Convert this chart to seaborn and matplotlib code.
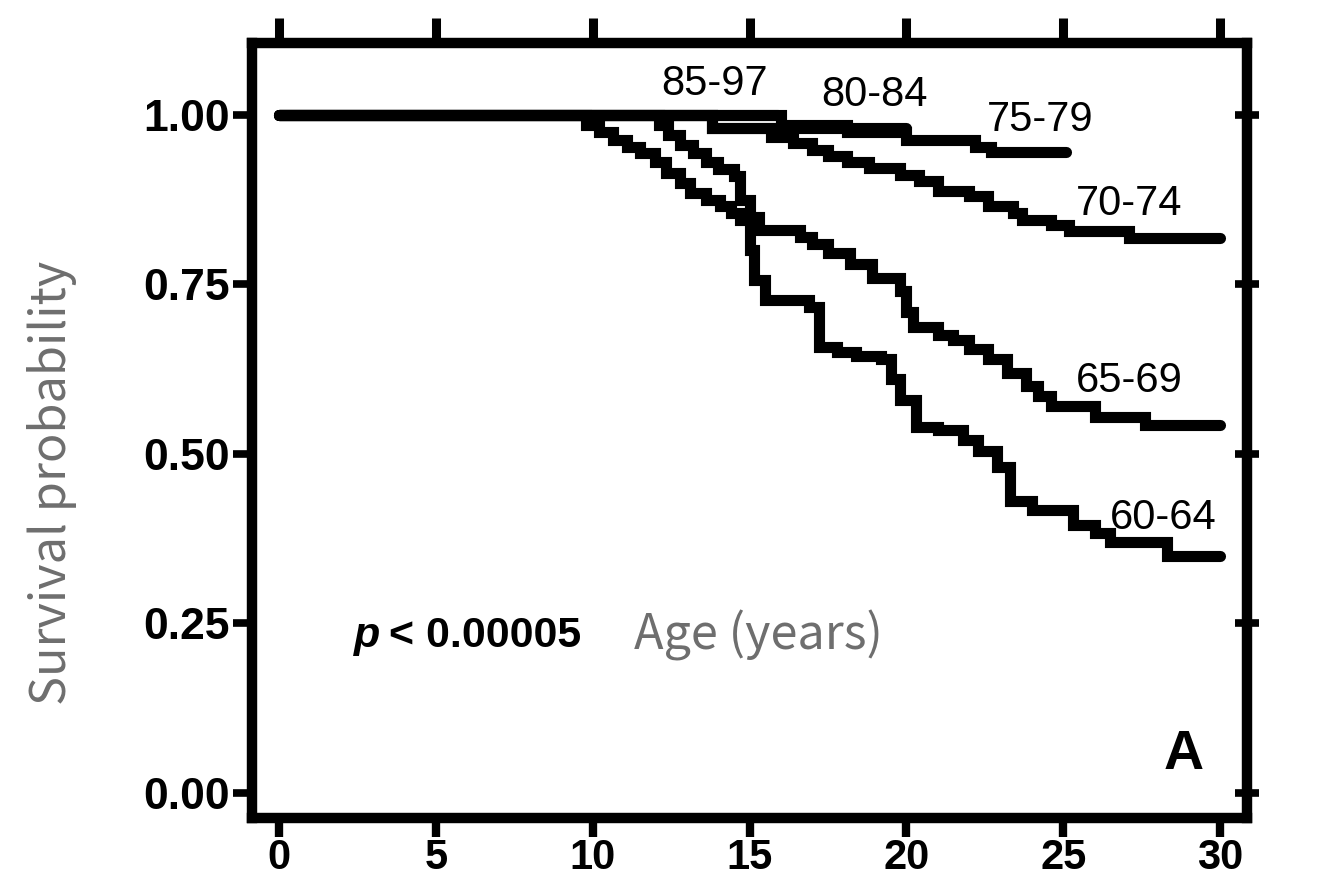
import matplotlib
matplotlib.use("Agg")
import matplotlib.pyplot as plt
import seaborn as sns
import pandas as pd

# ---------------- data ----------------
groups = ["85-97", "80-84", "75-79", "70-74", "65-69", "60-64"]

t_85_97 = [0, 15.9]
s_85_97 = [1.0, 1.0]

t_80_84 = [0, 13.8, 20.0]
s_80_84 = [1.0, 0.98, 0.98]

t_75_79 = [0, 16.0, 18.1, 20.0, 22.2, 22.7, 25.1]
s_75_79 = [1.0, 0.985, 0.975, 0.963, 0.953, 0.945, 0.945]

t_70_74 = [0, 13.8, 15.7, 16.4, 17.0, 17.5, 18.1, 18.8, 19.8, 20.4, 21.0, 22.0,
           22.6, 23.4, 23.7, 24.6, 25.2, 27.1, 30.0]
s_70_74 = [1.0, 0.98, 0.968, 0.958, 0.948, 0.94, 0.93, 0.922, 0.912, 0.903, 0.888,
           0.88, 0.866, 0.855, 0.845, 0.838, 0.828, 0.819, 0.819]

t_65_69 = [0, 12.1, 12.4, 12.8, 13.2, 13.6, 14.0, 14.5, 14.7, 15.0, 15.3, 16.6, 17.0,
           17.5, 18.2, 18.9, 19.8, 20.0, 20.2, 21.0, 21.5, 22.0, 22.6, 23.2, 23.8,
           24.2, 24.6, 26.0, 27.6, 30.0]
s_65_69 = [1.0, 0.985, 0.97, 0.955, 0.944, 0.93, 0.92, 0.91, 0.875, 0.85, 0.83, 0.82,
           0.81, 0.796, 0.78, 0.76, 0.74, 0.71, 0.687, 0.675, 0.668, 0.655, 0.64, 0.62,
           0.60, 0.585, 0.57, 0.555, 0.543, 0.543]

t_60_64 = [0, 9.8, 10.2, 10.65, 11.1, 11.5, 12.0, 12.35, 12.8, 13.1, 13.6, 14.05, 14.4,
           14.7, 15.0, 15.15, 15.5, 16.9, 17.2, 17.8, 18.4, 19.2, 19.5, 19.8, 20.3,
           21.0, 21.8, 22.3, 22.9, 23.3, 24.0, 25.3, 26.0, 26.5, 28.3, 30.0]
s_60_64 = [1.0, 0.985, 0.975, 0.963, 0.953, 0.944, 0.93, 0.914, 0.9, 0.885, 0.875,
           0.865, 0.855, 0.845, 0.80, 0.757, 0.727, 0.717, 0.658, 0.65, 0.645, 0.64,
           0.61, 0.58, 0.54, 0.535, 0.52, 0.505, 0.48, 0.43, 0.417, 0.395, 0.383,
           0.37, 0.35, 0.35]

times = [t_85_97, t_80_84, t_75_79, t_70_74, t_65_69, t_60_64]
survs = [s_85_97, s_80_84, s_75_79, s_70_74, s_65_69, s_60_64]

# curve label positions (data coords)
label_x = [13.9, 18.97, 24.26, 27.1, 27.1, 28.2]
label_y = [1.046, 1.029, 0.992, 0.869, 0.608, 0.406]

x_ticks = [0, 5, 10, 15, 20, 25, 30]
y_ticks = [0.0, 0.25, 0.5, 0.75, 1.0]
y_ticklabels = ["0.00", "0.25", "0.50", "0.75", "1.00"]

# ---------------- plotting ----------------
sns.set_style("ticks")
plt.rcParams["font.family"] = ["Liberation Sans", "DejaVu Sans"]

W, H = 1322, 880
fig = plt.figure(figsize=(W / 100, H / 100), dpi=100)
fig.patch.set_facecolor("white")
ax = fig.add_axes([252 / W, 1 - 818 / H, (1247 - 252) / W, (818 - 43) / H])

for g, t, s in zip(groups, times, survs):
    df = pd.DataFrame({"time": t, "surv": s})
    sns.lineplot(data=df, x="time", y="surv", ax=ax, color="black",
                 linewidth=8, drawstyle="steps-post", estimator=None,
                 sort=False, solid_capstyle="round", solid_joinstyle="miter")

ax.set_xlim(-0.86, 30.86)
ax.set_ylim(-0.037, 1.106)
ax.set_xticks(x_ticks)
ax.set_xticklabels([str(v) for v in x_ticks])
ax.set_yticks(y_ticks)
ax.set_yticklabels(y_ticklabels)

for sp in ax.spines.values():
    sp.set_visible(True)
    sp.set_linewidth(7.5)
    sp.set_color("black")

ax.tick_params(axis="x", bottom=True, top=False, direction="out", length=14,
               width=6, labelsize=30, pad=0.5, color="black", labelcolor="black")
ax.tick_params(axis="y", left=True, right=False, direction="out", length=14,
               width=5.5, labelsize=32, pad=2, color="black", labelcolor="black")
for lab in ax.get_xticklabels() + ax.get_yticklabels():
    lab.set_fontweight("bold")

# top ticks (longer, outward)
sec_top = ax.secondary_xaxis("top")
sec_top.set_xticks(x_ticks)
sec_top.tick_params(direction="out", length=18, width=6.5, labeltop=False,
                    color="black")
sec_top.spines["top"].set_visible(False)

# right-hand ticks crossing the frame
sec = ax.secondary_yaxis("right")
sec.set_yticks(y_ticks)
sec.tick_params(direction="inout", length=17, width=5.5, labelright=False,
                color="black")
sec.spines["right"].set_visible(False)

# curve labels
for g, lx, ly in zip(groups, label_x, label_y):
    ax.text(lx, ly, g, ha="center", va="center", fontsize=30, color="black")

ax.text(28.85, 0.056, "A", ha="center", va="center", fontsize=40,
        fontweight="bold", color="black")

ax.text(2.4, 0.232, "p", ha="left", va="center", fontsize=31,
        fontweight="bold", fontstyle="italic", color="black")
ax.text(3.5, 0.232, "< 0.00005", ha="left", va="center", fontsize=31,
        fontweight="bold", color="black")

ax.set_xlabel("Age (years)", fontsize=35, color="#6e6e6e",
              family=["Noto Sans CJK SC", "DejaVu Sans"], fontweight="light")
ax.xaxis.set_label_coords(0.5085, 0.268)
ax.set_ylabel("Survival probability", fontsize=35, color="#6e6e6e",
              family=["Noto Sans CJK SC", "DejaVu Sans"], fontweight="light")
ax.yaxis.set_label_coords(-0.176, 0.432)

fig.savefig("out.png", dpi=100, facecolor="white")
